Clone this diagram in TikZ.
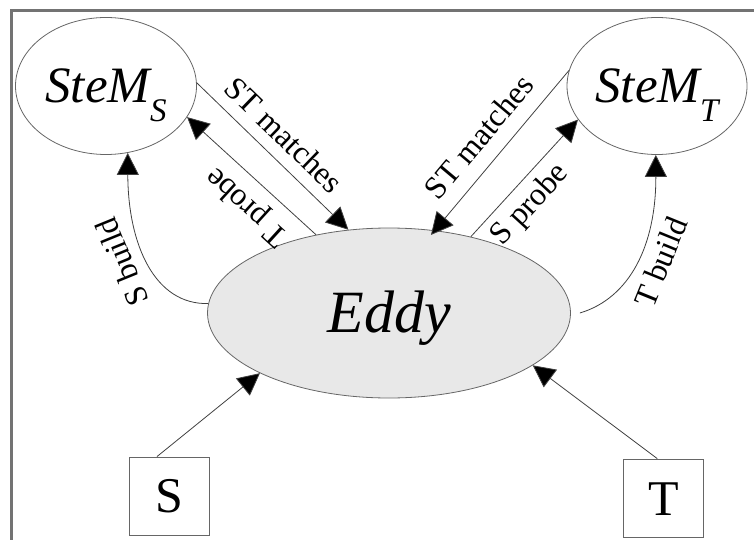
\documentclass[tikz,border=0pt]{standalone}
\usepackage{fontspec}
\IfFontExistsTF{LiberationSerif-Regular.ttf}
  {\setmainfont{LiberationSerif}[Extension=.ttf, UprightFont=*-Regular,
     ItalicFont=*-Italic, BoldFont=*-Bold, BoldItalicFont=*-BoldItalic]}
  {\setmainfont{Liberation Serif}}
\usetikzlibrary{shapes.geometric,arrows.meta}

\begin{document}
\begin{tikzpicture}[x=1pt,y=-1pt,
  bubble/.style={ellipse, draw=black!60, line width=0.8pt, inner sep=0pt, text depth=0pt},
  srcbox/.style={rectangle, draw=black!60, line width=0.8pt, minimum width=80pt,
    minimum height=78pt, text depth=0pt, font=\fontsize{50}{55}\selectfont},
  flow/.style={draw=black!75, line width=0.8pt, -{Triangle[length=22pt,width=22pt,fill=black]}},
  lab/.style={font=\fontsize{32}{35}\selectfont, sloped, inner sep=3pt},
  stemfont/.style={font=\fontsize{51}{55}\selectfont\itshape},
]
\useasboundingbox (0,0) rectangle (754,540);
% frame
\draw[black!55, line width=3pt] (11,540) -- (11,11) -- (754,11);

% state modules and the eddy
\node[bubble, stemfont, minimum width=181pt, minimum height=137pt, text height=34pt]
  (sS) at (106,86) {SteM\raisebox{-19pt}{\fontsize{33}{36}\selectfont S}};
\node[bubble, stemfont, minimum width=180pt, minimum height=137pt, text height=34pt]
  (sT) at (657,86) {SteM\raisebox{-19pt}{\fontsize{33}{36}\selectfont T}};
\node[bubble, fill=black!9, minimum width=363pt, minimum height=170pt, text height=39pt,
  font=\fontsize{60}{64}\selectfont\itshape] (eddy) at (389,313) {Eddy};

% sources
\node[srcbox, text height=32pt] (sbox) at (169,496) {S};
\node[srcbox, text height=34pt] (tbox) at (663.5,498) {T};

% build edges
\draw[flow] (eddy.177.5) .. controls (155,305) and (128,245) ..
  node[lab, allow upside down, above=9pt, pos=0.56] {S build} (sS.-72);
\draw[flow] ([xshift=9pt]eddy.east) .. controls (630,298) and (656,245) ..
  node[lab, below=7pt, pos=0.55] {T build} (sT.-91);

% probe and match edges
\draw[flow] (sS.2) -- node[lab, above=9pt, pos=0.47] {ST matches} (eddy.116);
\draw[flow] (eddy.133.5) -- node[lab, allow upside down, above=7pt, pos=0.4] {T probe} (sS.-21);
\draw[flow, shorten >=-6pt] (sT.170) -- node[lab, above=12pt, pos=0.52] {ST matches} (eddy.61);
\draw[flow] (eddy.43) -- node[lab, below=5pt, pos=0.4] {S probe} (sT.203.6);

% inputs
\draw[flow] (sbox.107) -- (eddy.205.7);
\draw[flow] (tbox.99) -- (eddy.-20.4);
\end{tikzpicture}
\end{document}
